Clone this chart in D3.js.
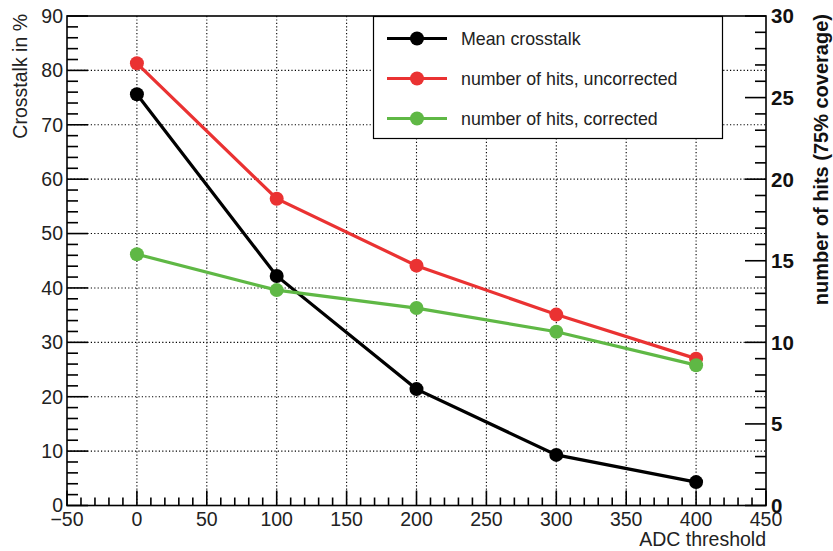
<!DOCTYPE html>
<html>
<head>
<meta charset="utf-8">
<script src="https://cdn.jsdelivr.net/npm/d3@7"></script>
<style>
  html, body { margin: 0; padding: 0; background: #fff; }
  svg { display: block; font-family: "Liberation Sans", Arial, Helvetica, sans-serif; }
</style>
</head>
<body>
<svg id="chart" width="833" height="551"></svg>
<script>
// ADC threshold values (x) and the three measured series
const thresholds = [0, 100, 200, 300, 400];
const meanCrosstalk = [75.6, 42.2, 21.4, 9.3, 4.3];          // left axis, %
const hitsUncorrected = [27.1, 18.8, 14.7, 11.7, 9.0];       // right axis
const hitsCorrected = [15.4, 13.2, 12.1, 10.65, 8.6];        // right axis

const xTicks = [-50, 0, 50, 100, 150, 200, 250, 300, 350, 400, 450];
const leftTicks = [0, 10, 20, 30, 40, 50, 60, 70, 80, 90];
const rightTicks = [0, 5, 10, 15, 20, 25, 30];

const seriesInfo = [
  { name: "Mean crosstalk", values: meanCrosstalk, axis: "left", color: "#000000" },
  { name: "number of hits, uncorrected", values: hitsUncorrected, axis: "right", color: "#ea3232" },
  { name: "number of hits, corrected", values: hitsCorrected, axis: "right", color: "#5fb845" }
];

const svg = d3.select("#chart");
const frame = { left: 67, right: 766, top: 16, bottom: 505.5 };

const x = d3.scaleLinear().domain([-50, 450]).range([frame.left, frame.right]);
const yL = d3.scaleLinear().domain([0, 90]).range([frame.bottom, frame.top]);
const yR = d3.scaleLinear().domain([0, 30]).range([frame.bottom, frame.top]);

// dotted grid at the major tick positions
const grid = svg.append("g").attr("stroke", "#000").attr("stroke-width", 1.1)
  .attr("stroke-dasharray", "1.2,2.2");
xTicks.filter(v => v > -50 && v < 450).forEach(v => {
  grid.append("line").attr("x1", x(v)).attr("x2", x(v))
    .attr("y1", frame.top).attr("y2", frame.bottom);
});
leftTicks.filter(v => v > 0 && v < 90).forEach(v => {
  grid.append("line").attr("x1", frame.left).attr("x2", frame.right)
    .attr("y1", yL(v)).attr("y2", yL(v));
});

// frame box
svg.append("rect")
  .attr("x", frame.left).attr("y", frame.top)
  .attr("width", frame.right - frame.left).attr("height", frame.bottom - frame.top)
  .attr("fill", "none").attr("stroke", "#000").attr("stroke-width", 1.6);

const ticks = svg.append("g").attr("stroke", "#000").attr("stroke-width", 1.6);

// x axis ticks: major every 50, minor every 10, pointing inward
d3.range(-50, 451, 10).forEach(v => {
  const major = v % 50 === 0;
  ticks.append("line").attr("x1", x(v)).attr("x2", x(v))
    .attr("y1", frame.bottom).attr("y2", frame.bottom - (major ? 15 : 8));
});
// left axis ticks: major every 10, minor every 2
d3.range(0, 91, 2).forEach(v => {
  const major = v % 10 === 0;
  ticks.append("line").attr("x1", frame.left).attr("x2", frame.left + (major ? 21 : 11))
    .attr("y1", yL(v)).attr("y2", yL(v));
});
// right axis ticks: major every 5, minor every 1
d3.range(0, 31, 1).forEach(v => {
  const major = v % 5 === 0;
  ticks.append("line").attr("x1", frame.right).attr("x2", frame.right - (major ? 21 : 11))
    .attr("y1", yR(v)).attr("y2", yR(v));
});

// tick labels
const fmt = v => (v < 0 ? "\u2212" + Math.abs(v) : String(v));
svg.append("g").selectAll("text").data(xTicks).join("text")
  .attr("x", d => x(d)).attr("y", 526)
  .attr("text-anchor", "middle").attr("font-size", 19.5).attr("fill", "#222")
  .text(fmt);
svg.append("g").selectAll("text").data(leftTicks).join("text")
  .attr("x", 63).attr("y", d => yL(d)).attr("dy", "0.35em")
  .attr("text-anchor", "end").attr("font-size", 19.5).attr("fill", "#222")
  .text(d => d);
svg.append("g").selectAll("text").data(rightTicks).join("text")
  .attr("x", 771).attr("y", d => yR(d)).attr("dy", "0.36em")
  .attr("text-anchor", "start").attr("font-size", 20.5).attr("font-weight", "bold").attr("fill", "#111")
  .text(d => d);

// axis titles
svg.append("text").attr("x", frame.right).attr("y", 546)
  .attr("text-anchor", "end").attr("font-size", 19.5).attr("fill", "#222")
  .text("ADC threshold");
svg.append("text").attr("transform", `translate(27,14) rotate(-90)`)
  .attr("text-anchor", "end").attr("font-size", 19.5).attr("fill", "#222")
  .text("Crosstalk in %");
svg.append("text").attr("transform", `translate(828,14) rotate(-90)`)
  .attr("text-anchor", "end").attr("font-size", 20).attr("font-weight", "bold").attr("fill", "#111")
  .text("number of hits (75% coverage)");

// series lines and markers
seriesInfo.forEach(s => {
  const yScale = s.axis === "left" ? yL : yR;
  const pts = thresholds.map((t, i) => [x(t), yScale(s.values[i])]);
  svg.append("path").attr("d", d3.line()(pts))
    .attr("fill", "none").attr("stroke", s.color).attr("stroke-width", 3.2);
  svg.append("g").selectAll("circle").data(pts).join("circle")
    .attr("cx", d => d[0]).attr("cy", d => d[1]).attr("r", 7)
    .attr("fill", s.color);
});

// legend
const legend = svg.append("g");
legend.append("rect").attr("x", 373.5).attr("y", 16.5).attr("width", 349).attr("height", 122)
  .attr("fill", "#fff").attr("stroke", "#000").attr("stroke-width", 1.2);
seriesInfo.forEach((s, i) => {
  const cy = 38.5 + i * 40;
  legend.append("line").attr("x1", 387).attr("x2", 447).attr("y1", cy).attr("y2", cy)
    .attr("stroke", s.color).attr("stroke-width", 3.2);
  legend.append("circle").attr("cx", 417).attr("cy", cy).attr("r", 7).attr("fill", s.color);
  legend.append("text").attr("x", 461).attr("y", cy).attr("dy", "0.35em")
    .attr("font-size", 17.8).attr("fill", "#222").text(s.name);
});
</script>
</body>
</html>
